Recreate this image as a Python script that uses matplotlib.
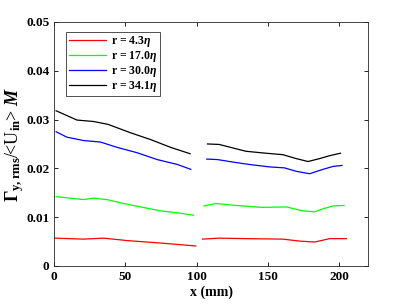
import numpy as np
import matplotlib
matplotlib.use('Agg')
import matplotlib.pyplot as plt

# Data (x in mm)
x_red1 = [0.7, 20.6, 34.7, 51.2, 74.6, 99.3]
y_red1 = [0.0057, 0.0055, 0.0057, 0.0052, 0.0047, 0.0041]
x_red2 = [104, 115.7, 134.5, 160.4, 172, 182.6, 193.2, 205]
y_red2 = [0.0055, 0.0057, 0.0056, 0.0055, 0.0051, 0.0049, 0.0056, 0.0056]

x_grn1 = [1.4, 11.3, 20.6, 27.7, 37.1, 48.8, 60.6, 74.6, 88.7, 97.7]
y_grn1 = [0.0142, 0.0139, 0.0136, 0.0139, 0.0136, 0.0128, 0.0121, 0.0113, 0.0108, 0.0104]
x_grn2 = [105.1, 113.4, 127.5, 146.3, 162.7, 174.4, 182.6, 188.5, 195.6, 203.3]
y_grn2 = [0.0123, 0.0128, 0.0124, 0.0120, 0.0121, 0.0113, 0.0111, 0.0117, 0.0123, 0.0124]

x_blu1 = [1.4, 8.9, 20.6, 32.4, 44.2, 58.2, 72.3, 86.4, 95.8]
y_blu1 = [0.0275, 0.0264, 0.0257, 0.0254, 0.0243, 0.0232, 0.0218, 0.0208, 0.0198]
x_blu2 = [107, 114.6, 125.1, 136.8, 150.9, 161.5, 169.7, 179.1, 188.5, 195.6, 201.9]
y_blu2 = [0.0219, 0.0218, 0.0213, 0.0208, 0.0203, 0.0201, 0.0194, 0.0189, 0.0198, 0.0204, 0.0206]

x_blk1 = [1.4, 16, 27.7, 38, 53.5, 67.6, 81.7, 95.3]
y_blk1 = [0.0318, 0.0299, 0.0296, 0.0290, 0.0273, 0.0259, 0.0243, 0.0230]
x_blk2 = [107.5, 115.7, 134.5, 148.6, 160.4, 169.7, 178, 186.1, 193.2, 200.7]
y_blk2 = [0.0250, 0.0249, 0.0235, 0.0231, 0.0228, 0.0220, 0.0214, 0.0220, 0.0226, 0.0231]

r_vals = ['4.3', '17.0', '30.0', '34.1']
colors = ['#ff0000', '#00ff00', '#0000ff', '#000000']

plt.rcParams['font.family'] = 'Liberation Serif'
plt.rcParams['font.weight'] = 'bold'
plt.rcParams['mathtext.fontset'] = 'custom'
plt.rcParams['mathtext.rm'] = 'Liberation Serif:bold'
plt.rcParams['mathtext.it'] = 'Liberation Serif:bold:italic'
plt.rcParams['mathtext.bf'] = 'Liberation Serif:bold'

fig = plt.figure(figsize=(4.07, 3.05), dpi=100)
ax = fig.add_axes([0.133, 0.128, 0.771, 0.80])

segs = [(x_red1, y_red1, x_red2, y_red2),
        (x_grn1, y_grn1, x_grn2, y_grn2),
        (x_blu1, y_blu1, x_blu2, y_blu2),
        (x_blk1, y_blk1, x_blk2, y_blk2)]
handles = []
for (xa, ya, xb, yb), c, r in zip(segs, colors, r_vals):
    h, = ax.plot(xa, ya, color=c, lw=0.9, label=r'r = ' + r + r'$\eta$')
    ax.plot(xb, yb, color=c, lw=0.9)
    handles.append(h)

ax.set_xlim(0, 220)
ax.set_ylim(0, 0.05)
ax.set_xticks([0, 50, 100, 150, 200])
ax.set_yticks([0, 0.01, 0.02, 0.03, 0.04, 0.05])
ax.set_yticklabels(['0', '0.01', '0.02', '0.03', '0.04', '0.05'])
ax.tick_params(direction='in', top=True, right=True, labelsize=9.5, length=3, width=0.6)
for s in ax.spines.values():
    s.set_linewidth(0.6)
    s.set_color('#262626')

ax.set_xlabel('x (mm)', fontsize=10, fontweight='bold', labelpad=2)
ax.set_ylabel(r'$\Gamma_{\rm y,rms}$/<U$_{\rm in}$> $M$', fontsize=13, labelpad=0)

leg = ax.legend(handles=handles, loc='upper left', fontsize=8.5, frameon=True,
                fancybox=False, edgecolor='black', handlelength=3.2,
                borderpad=0.2, labelspacing=0.0, handletextpad=0.4,
                bbox_to_anchor=(0.02, 0.985))
leg.get_frame().set_linewidth(0.6)

fig.savefig('out.png', dpi=100)
